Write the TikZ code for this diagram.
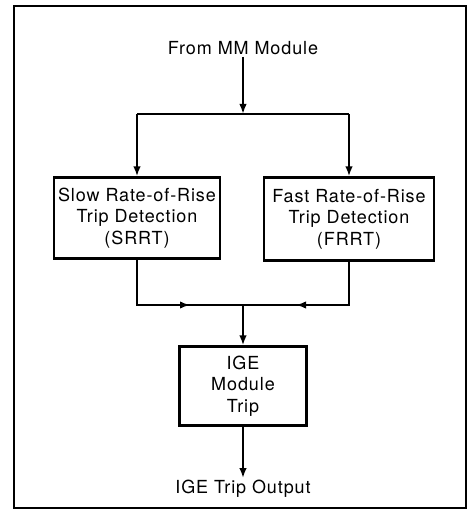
\documentclass[tikz,border=0pt]{standalone}
\usepackage{fontspec}
\setmainfont{TeX Gyre Heros}[LetterSpace=5]
\usepackage{tikz}
\usetikzlibrary{arrows.meta, positioning, calc}

\begin{document}
\begin{tikzpicture}[
    x=1pt,
    y=-1pt,
    font=\fontsize{18}{21.5}\selectfont,
    wire/.style={line width=2.2pt, draw=black},
    flow/.style={wire, -{Latex[length=10pt,width=7.5pt]}},
    block/.style={draw=black, line width=2.2pt, fill=white, align=center, inner sep=2pt},
    label/.style={inner sep=2pt, align=center}
  ]
    \useasboundingbox (0,0) rectangle (470,510);
    \draw[line width=2.2pt] (14,6) rectangle (466,508);

    \node[label] (from) at (243,48) {From MM Module};
    \node[block, minimum width=166pt, minimum height=81pt] (srrt) at (137,218) {Slow Rate-of-Rise\\Trip Detection\\(SRRT)};
    \node[block, minimum width=170pt, minimum height=83pt] (frrt) at (349,219) {Fast Rate-of-Rise\\Trip Detection\\(FRRT)};
    \node[block, minimum width=127pt, minimum height=79pt] (ige) at (243,386) {IGE\\Module\\Trip};
    \node[label] (out) at (243,489) {IGE Trip Output};

    \coordinate (split) at (243,114);
    \coordinate (join) at (243,305);

    % fan out
    \draw[flow] (from) -- (split);
    \draw[wire] (split -| srrt) -- (split -| frrt);
    \draw[flow] (split -| srrt) -- (srrt);
    \draw[flow] (split -| frrt) -- (frrt);

    % merge
    \draw[wire] (srrt) |- (join);
    \draw[wire] (frrt) |- (join);
    \draw[flow] (join -| srrt) -- ($(join -| srrt)!0.5!(join)$);
    \draw[flow] (join -| frrt) -- ($(join -| frrt)!0.5!(join)$);
    \draw[flow] (join) -- (ige);
    \draw[flow] (ige) -- (out);
\end{tikzpicture}
\end{document}
